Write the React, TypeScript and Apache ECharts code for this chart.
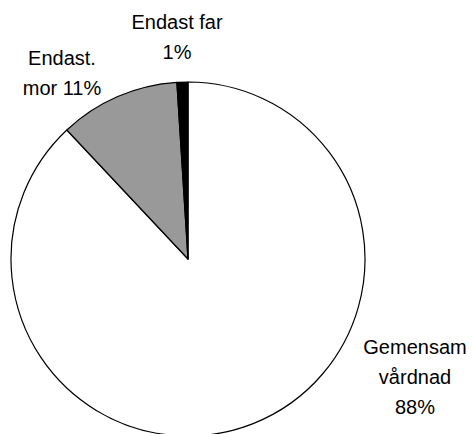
import React, { useEffect, useRef } from "react";
import * as echarts from "echarts";

const categories = ["Gemensam\nvårdnad", "Endast.\nmor", "Endast far"];
const values = [88, 11, 1];
const colors = ["#ffffff", "#999999", "#000000"];
const separators = ["\n", " ", "\n"];
const labelPositions = [
  [415, 377],
  [62, 73],
  [177, 37],
];

export default function App() {
  const ref = useRef<HTMLDivElement>(null);
  useEffect(() => {
    if (!ref.current) return;
    const chart = echarts.init(ref.current, null, { renderer: "svg" });
    chart.setOption({
      animation: false,
      backgroundColor: "#ffffff",
      series: [
        {
          type: "pie",
          center: [188, 259],
          radius: [0, 177],
          startAngle: 90,
          clockwise: true,
          avoidLabelOverlap: false,
          itemStyle: { borderColor: "#000000", borderWidth: 1.2 },
          emphasis: { disabled: true },
          label: {
            show: true,
            position: "outside",
            fontFamily: "Liberation Sans, Arial, sans-serif",
            fontSize: 20,
            lineHeight: 30,
            color: "#000000",
            align: "center",
            formatter: (p: any) =>
              p.name + separators[p.dataIndex] + p.value + "%",
          },
          labelLine: { show: false },
          labelLayout: (p: any) => ({
            x: labelPositions[p.dataIndex][0],
            y: labelPositions[p.dataIndex][1],
            align: "center",
            verticalAlign: "middle",
          }),
          data: categories.map((c, i) => ({
            name: c,
            value: values[i],
            itemStyle: { color: colors[i] },
          })),
        },
      ],
    });
    return () => chart.dispose();
  }, []);
  return (
    <div
      ref={ref}
      style={{ position: "fixed", left: 0, top: 0, width: 473, height: 434 }}
    />
  );
}
